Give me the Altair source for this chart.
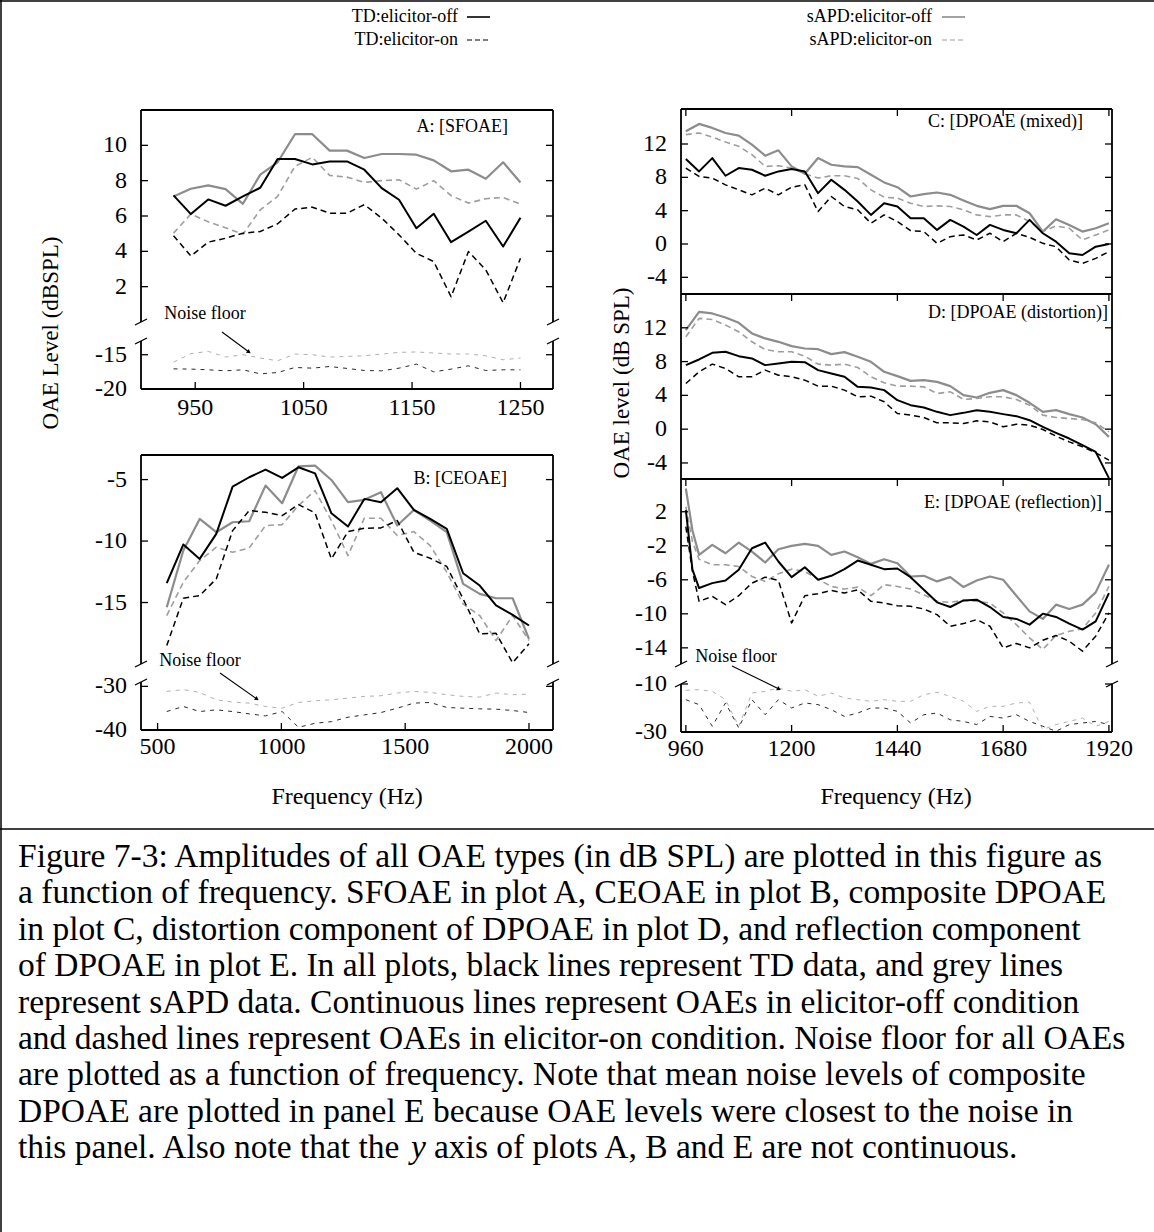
import altair as alt
import pandas as pd

FONT = "Liberation Serif"
INK = "#000000"
GREY_SOLID = "#8c8c8c"
GREY_DASHED = "#9e9e9e"
NOISE_DARK = "#2a2a2a"
NOISE_LIGHT = "#b0b0b0"
TICK = 7

# ---------------- Panel A: SFOAE ----------------
A_FREQ = [930, 946, 962, 978, 994, 1010, 1026, 1042, 1058, 1074, 1090,
          1106, 1122, 1138, 1154, 1170, 1186, 1202, 1218, 1234, 1250]
A_TD_OFF = [7.17, 6.11, 6.94, 6.58, 7.11, 7.6, 9.23, 9.23, 8.92, 9.09, 9.09,
            8.62, 7.58, 6.92, 5.31, 6.13, 4.52, 5.12, 5.73, 4.27, 5.9]
A_TD_ON = [4.88, 3.74, 4.52, 4.74, 5.03, 5.12, 5.56, 6.39, 6.5, 6.16, 6.16,
           6.64, 5.88, 4.93, 3.89, 3.42, 1.43, 3.99, 2.95, 1.09, 3.61]
A_SAPD_OFF = [7.11, 7.54, 7.73, 7.52, 6.69, 8.34, 9.04, 10.63, 10.63, 9.7, 9.7,
              9.28, 9.51, 9.51, 9.47, 9.15, 8.53, 8.62, 8.11, 9.04, 7.9]
A_SAPD_ON = [5.03, 6.11, 5.67, 5.33, 4.97, 6.35, 7.11, 8.81, 9.32, 8.3, 8.2,
             7.9, 8.0, 8.05, 7.52, 8.0, 7.15, 6.73, 6.98, 7.05, 6.67]
A_NOISE_TD = [-17.06, -17.1, -17.2, -17.35, -17.2, -17.79, -17.6, -16.86, -16.96, -16.72, -17.0,
              -17.3, -17.35, -16.96, -16.37, -17.5, -17.1, -16.62, -17.3, -17.2, -17.2]
A_NOISE_SAPD = [-16.08, -14.85, -14.51, -15.34, -15.0, -15.49, -15.88, -14.9, -15.0, -15.34, -15.25,
                -15.15, -14.9, -14.66, -14.6, -14.75, -14.9, -14.9, -15.15, -15.74, -15.49]

# ---------------- Panel B: CEOAE ----------------
B_FREQ = [537, 604, 670, 737, 803, 870, 936, 1003, 1069, 1136, 1202, 1269,
          1335, 1402, 1468, 1535, 1601, 1668, 1734, 1801, 1867, 1934, 2000]
B_TD_OFF = [-13.43, -10.28, -11.45, -9.42, -5.57, -4.81, -4.19, -4.86, -4.0, -4.49, -7.74, -8.82,
            -6.57, -6.84, -5.7, -7.47, -8.2, -9.01, -12.62, -13.62, -15.24, -16.0, -16.87]
B_TD_ON = [-18.5, -14.65, -14.43, -13.08, -9.15, -7.52, -7.66, -7.93, -7.03, -7.71, -11.45, -9.23,
           -8.96, -8.93, -8.33, -10.91, -11.4, -12.07, -14.7, -17.55, -17.5, -19.9, -18.36]
B_SAPD_OFF = [-15.38, -10.77, -8.2, -9.28, -8.47, -8.39, -5.49, -6.92, -3.92, -3.86, -5.03, -6.84,
              -6.65, -6.03, -8.74, -7.47, -8.33, -9.28, -13.48, -14.3, -14.65, -14.65, -17.95]
B_SAPD_ON = [-16.06, -13.35, -11.59, -10.5, -10.91, -10.56, -8.74, -8.66, -7.11, -5.89, -8.33, -11.18,
             -8.14, -8.14, -9.55, -9.23, -10.37, -12.53, -15.11, -16.06, -18.09, -16.06, -18.09]
B_NOISE_SAPD = [-31.15, -30.76, -31.38, -33.07, -33.61, -33.84, -34.61, -35.0, -33.69, -33.3, -33.07, -32.69,
                -32.3, -32.15, -31.53, -31.15, -31.38, -31.92, -32.3, -32.45, -31.53, -31.92, -31.76]
B_NOISE_TD = [-35.77, -34.61, -35.77, -35.38, -35.77, -36.3, -36.77, -35.77, -39.38, -38.46, -38.08, -37.07,
              -36.54, -36.0, -35.0, -33.84, -33.69, -34.84, -35.0, -35.15, -35.23, -35.53, -36.0]

# ---------------- Panels C, D, E: DPOAE ----------------
R_FREQ = [960, 990, 1020, 1050, 1080, 1110, 1140, 1170, 1200, 1230, 1260,
          1290, 1320, 1350, 1380, 1410, 1440, 1470, 1500, 1530, 1560, 1590,
          1620, 1650, 1680, 1710, 1740, 1770, 1800, 1830, 1860, 1890, 1920]
E_FREQ = [960, 975, 990, 1020, 1050, 1080, 1110, 1140, 1170, 1200, 1230, 1260,
          1290, 1320, 1350, 1380, 1410, 1440, 1470, 1500, 1530, 1560, 1590,
          1620, 1650, 1680, 1710, 1740, 1770, 1800, 1830, 1860, 1890, 1920]

C_TD_OFF = [10.19, 8.71, 10.31, 8.19, 9.11, 8.91, 8.19, 8.71, 8.99, 8.71, 6.1,
            7.71, 6.5, 5.1, 3.49, 4.9, 4.5, 3.09, 3.09, 1.69, 2.89, 2.09,
            1.08, 2.29, 1.69, 1.29, 2.89, 1.29, 0.28, -1.12, -1.32, -0.32, 0.0]
C_TD_ON = [9.11, 8.11, 7.91, 7.1, 6.5, 5.9, 6.7, 5.9, 6.82, 7.1, 3.89,
           5.7, 4.5, 4.1, 2.49, 3.49, 2.69, 1.61, 1.49, 0.08, 0.88, 1.08,
           0.48, 1.29, 0.28, 1.29, 0.8, 0.08, -0.32, -1.92, -2.33, -1.72, -0.92]
C_SAPD_OFF = [13.52, 14.41, 13.93, 13.32, 13.0, 11.92, 10.6, 11.24, 9.31, 8.43, 10.31,
              9.51, 9.31, 9.23, 8.31, 7.39, 6.82, 5.7, 5.98, 6.18, 5.9, 5.22,
              4.58, 4.18, 4.58, 4.58, 3.69, 1.49, 2.97, 2.29, 1.49, 1.89, 2.49]
C_SAPD_ON = [13.12, 13.32, 12.84, 12.24, 11.72, 10.72, 9.31, 9.39, 9.11, 8.43, 7.91,
             8.19, 8.19, 7.87, 6.5, 5.62, 5.5, 4.9, 4.5, 4.58, 4.5, 4.1,
             3.49, 3.29, 3.49, 3.49, 2.69, 1.49, 2.17, 1.89, 0.48, 1.09, 1.69]

D_TD_OFF = [7.58, 8.25, 9.04, 9.16, 8.64, 8.37, 7.58, 7.78, 7.97, 7.93, 6.99,
            6.59, 6.2, 5.01, 4.93, 4.62, 3.43, 2.84, 2.56, 2.05, 1.66, 1.93,
            2.25, 2.05, 1.78, 1.54, 1.06, 0.27, -0.44, -1.11, -1.9, -2.69, -5.8]
D_TD_ON = [5.41, 6.79, 7.7, 7.18, 6.2, 6.2, 6.99, 6.39, 6.2, 5.8, 5.09,
           5.09, 4.62, 3.83, 3.91, 3.24, 1.85, 1.66, 1.38, 0.75, 0.75, 0.67,
           0.99, 0.87, 0.28, 0.59, 0.47, -0.04, -0.83, -1.5, -2.09, -2.8, -3.67]
D_SAPD_OFF = [11.72, 13.89, 13.7, 13.22, 12.59, 11.33, 10.74, 10.34, 9.83, 9.55, 9.47,
              8.88, 9.12, 8.57, 7.97, 6.79, 6.28, 5.72, 5.8, 5.6, 5.09, 4.03,
              3.75, 4.3, 4.62, 4.03, 3.12, 2.05, 2.25, 1.78, 1.38, 0.59, -0.91]
D_SAPD_ON = [10.93, 13.11, 12.99, 12.32, 11.53, 10.34, 9.43, 9.16, 9.16, 8.64, 7.7,
             7.58, 7.7, 7.3, 6.2, 5.49, 5.09, 5.09, 5.01, 4.22, 4.42, 3.51,
             3.63, 3.83, 3.83, 3.51, 2.84, 1.66, 1.38, 1.26, 1.14, 0.75, -0.32]

E_TD_OFF = [2.2, -4.8, -6.97, -6.39, -6.08, -4.83, -2.29, -1.63, -3.85, -5.69, -4.52, -6.0,
            -5.53, -4.75, -3.74, -4.24, -4.75, -4.67, -5.69, -7.17, -8.65, -9.2, -8.42,
            -8.34, -9.2, -10.37, -10.6, -11.27, -9.98, -10.37, -11.15, -11.85, -10.88, -7.56]
E_TD_ON = [0.24, -5.0, -8.53, -7.95, -8.92, -7.87, -6.39, -5.69, -6.08, -11.07, -7.87, -7.64,
           -7.25, -7.56, -7.17, -8.53, -8.73, -9.04, -9.12, -9.43, -10.1, -11.46, -11.15,
           -10.68, -11.46, -14.0, -13.49, -14.0, -13.1, -12.55, -13.22, -14.39, -12.63, -9.9]
E_SAPD_OFF = [4.73, -0.2, -3.07, -1.9, -2.88, -1.63, -2.68, -3.97, -2.41, -2.02, -1.78, -2.02,
              -3.07, -2.68, -3.35, -4.13, -3.58, -4.05, -5.61, -5.53, -6.19, -5.69, -6.86,
              -6.08, -5.61, -6.0, -7.87, -9.71, -10.6, -8.92, -9.43, -8.92, -7.48, -4.24]
E_SAPD_ON = [2.59, -1.5, -3.58, -4.24, -4.24, -4.44, -5.61, -6.19, -5.3, -4.75, -5.02, -5.92,
             -6.78, -7.09, -6.86, -7.87, -6.58, -6.78, -7.09, -7.75, -8.53, -8.65, -8.42,
             -8.53, -8.73, -9.9, -11.27, -12.83, -14.19, -12.55, -12.05, -11.77, -9.9, -6.78]
E_NOISE_SAPD = [-12.64, -12.36, -13.06, -16.53, -27.6, -13.75, -13.06, -11.67, -13.06, -12.36, -15.14,
                -13.75, -15.83, -16.53, -17.22, -16.53, -17.22, -17.22, -14.44, -13.47, -15.14, -17.22,
                -21.4, -19.3, -19.3, -17.9, -17.6, -29.0, -26.9, -25.6, -24.2, -27.6, -25.6]
E_NOISE_TD = [-16.53, -18.6, -27.6, -17.9, -28.3, -16.53, -22.8, -16.53, -20.0, -17.9, -18.6,
              -20.7, -23.5, -22.1, -20.0, -20.0, -21.4, -26.25, -22.8, -22.1, -24.9, -25.6,
              -26.9, -23.5, -24.2, -22.8, -25.6, -27.6, -29.7, -26.9, -26.25, -25.6, -26.9]

LEGEND = [("TD:elicitor-off", "td_off"), ("TD:elicitor-on", "td_on"),
          ("sAPD:elicitor-off", "sapd_off"), ("sAPD:elicitor-on", "sapd_on")]

CAPTION = [
    "Figure 7-3: Amplitudes of all OAE types (in dB SPL) are plotted in this figure as",
    "a function of frequency. SFOAE in plot A, CEOAE in plot B, composite DPOAE",
    "in plot C, distortion component of DPOAE in plot D, and reflection component",
    "of DPOAE in plot E. In all plots, black lines represent TD data, and grey lines",
    "represent sAPD data. Continuous lines represent OAEs in elicitor-off condition",
    "and dashed lines represent OAEs in elicitor-on condition. Noise floor for all OAEs",
    "are plotted as a function of frequency. Note that mean noise levels of composite",
    "DPOAE are plotted in panel E because OAE levels were closest to the noise in",
]
CAPTION_LAST = ["this panel. Also note that the", "y", "axis of plots A, B and E are not continuous."]

STYLES = {
    "td_off": dict(color=INK, strokeWidth=2.0),
    "td_on": dict(color=INK, strokeWidth=1.5, strokeDash=[6, 4]),
    "sapd_off": dict(color=GREY_SOLID, strokeWidth=2.2),
    "sapd_on": dict(color=GREY_DASHED, strokeWidth=1.6, strokeDash=[6, 4]),
    "noise_td": dict(color=NOISE_DARK, strokeWidth=1.0, strokeDash=[4, 5]),
    "noise_sapd": dict(color=NOISE_LIGHT, strokeWidth=1.0, strokeDash=[4, 5]),
}

ONE = pd.DataFrame({"k": [0]})


def lin(dom, rng):
    return alt.Scale(domain=dom, range=rng, zero=False, nice=False)


def section(xdom, xrng, ydom, yrng, curves, edges, yticks, ylabels,
            xticks=None, xlab_dy=17, top_ticks=None, breaks=(), notes=None):
    """One plotting area (or one half of a broken-axis panel) with its own scales."""
    xs, ys = lin(xdom, xrng), lin(ydom, yrng)
    x0, x1 = xdom
    y0, y1 = ydom

    def X(f):
        return alt.X(f, scale=xs, axis=None)

    def Y(f):
        return alt.Y(f, scale=ys, axis=None)

    def XD(d):
        return alt.XDatum(d, scale=xs, axis=None)

    def YD(d):
        return alt.YDatum(d, scale=ys, axis=None)

    layers = []
    for freq, vals, style in curves:
        df = pd.DataFrame({"f": freq, "v": vals})
        layers.append(alt.Chart(df).mark_line(strokeJoin="round", **STYLES[style])
                      .encode(x=X("f:Q"), y=Y("v:Q")))

    seg = {"left": (x0, y0, x0, y1), "right": (x1, y0, x1, y1),
           "top": (x0, y1, x1, y1), "bottom": (x0, y0, x1, y0)}
    frame = pd.DataFrame([dict(zip(["xa", "ya", "xb", "yb"], seg[e])) for e in edges])
    layers.append(alt.Chart(frame).mark_rule(color=INK, strokeWidth=1.8)
                  .encode(x=X("xa:Q"), y=Y("ya:Q"), x2="xb:Q", y2="yb:Q"))

    if yticks:
        yt = pd.DataFrame({"v": yticks})
        layers.append(alt.Chart(yt).mark_rule(color=INK, strokeWidth=1.3, x2Offset=TICK)
                      .encode(x=XD(x0), x2=alt.X2Datum(x0), y=Y("v:Q")))
        layers.append(alt.Chart(yt).mark_rule(color=INK, strokeWidth=1.3, x2Offset=-TICK)
                      .encode(x=XD(x1), x2=alt.X2Datum(x1), y=Y("v:Q")))
    if ylabels:
        yl = pd.DataFrame({"v": ylabels, "t": [str(v) for v in ylabels]})
        layers.append(alt.Chart(yl).mark_text(align="right", baseline="middle", dx=-14,
                                              font=FONT, fontSize=24, color=INK)
                      .encode(x=XD(x0), y=Y("v:Q"), text="t:N"))
    if xticks:
        xt = pd.DataFrame({"v": xticks, "t": [str(v) for v in xticks]})
        layers.append(alt.Chart(xt).mark_rule(color=INK, strokeWidth=1.3, y2Offset=-TICK)
                      .encode(x=X("v:Q"), y=YD(y0), y2=alt.Y2Datum(y0)))
        layers.append(alt.Chart(xt).mark_text(align="center", baseline="middle", dy=xlab_dy,
                                              font=FONT, fontSize=24, color=INK)
                      .encode(x=X("v:Q"), y=YD(y0), text="t:N"))
    if top_ticks:
        tt = pd.DataFrame({"v": top_ticks})
        layers.append(alt.Chart(tt).mark_rule(color=INK, strokeWidth=1.3, y2Offset=TICK)
                      .encode(x=X("v:Q"), y=YD(y1), y2=alt.Y2Datum(y1)))
    for yb in breaks:
        for xb in (x0, x1):
            layers.append(alt.Chart(ONE).mark_rule(color=INK, strokeWidth=1.3,
                                                   xOffset=-6, x2Offset=6, yOffset=3, y2Offset=-3)
                          .encode(x=XD(xb), x2=alt.X2Datum(xb), y=YD(yb), y2=alt.Y2Datum(yb)))
    if notes:
        layers.extend(notes(XD, YD))
    return alt.layer(*layers)


def corner_label(text, xd, yd, dx, dy):
    return (alt.Chart(ONE).mark_text(text=text, align="right", baseline="middle", dx=dx, dy=dy,
                                     font=FONT, fontSize=18, color=INK)
            .encode(x=xd, y=yd))


def noise_note(fx, fy, ax, ay, bx, by, angle):
    """'Noise floor' label with an arrow pointing at the noise curves."""
    def build(XD, YD):
        return [
            alt.Chart(ONE).mark_text(text="Noise floor", align="center", baseline="middle",
                                     font=FONT, fontSize=18, color=INK)
            .encode(x=XD(fx), y=YD(fy)),
            alt.Chart(ONE).mark_rule(color=INK, strokeWidth=1.1)
            .encode(x=XD(ax), y=YD(ay), x2=alt.X2Datum(bx), y2=alt.Y2Datum(by)),
            alt.Chart(ONE).mark_point(shape="triangle-right", filled=True, size=22,
                                      angle=angle, color=INK, opacity=1)
            .encode(x=XD(bx), y=YD(by)),
        ]
    return build


# ---- left column geometry ----
AX_L = [141, 553]
A_X = [900, 1280]
B_X = [433, 2097]
# ---- right column geometry ----
AX_R = [681, 1112]
R_X = [949, 1927]
R_XT = [960, 1200, 1440, 1680, 1920]

sections = []

# Panel A, upper part
sections.append(section(
    A_X, AX_L, [0, 12], [322, 110],
    [(A_FREQ, A_SAPD_OFF, "sapd_off"), (A_FREQ, A_SAPD_ON, "sapd_on"),
     (A_FREQ, A_TD_OFF, "td_off"), (A_FREQ, A_TD_ON, "td_on")],
    ["left", "right", "top"], [2, 4, 6, 8, 10], [2, 4, 6, 8, 10], breaks=[0],
    notes=lambda XD, YD: [corner_label("A: [SFOAE]", XD(1280), YD(12), -45, 17)]))
# Panel A, lower part (noise floor)
sections.append(section(
    A_X, AX_L, [-20, -13], [389, 341],
    [(A_FREQ, A_NOISE_SAPD, "noise_sapd"), (A_FREQ, A_NOISE_TD, "noise_td")],
    ["left", "right", "bottom"], [-15], [-15, -20],
    xticks=[950, 1050, 1150, 1250], xlab_dy=19, breaks=[-13],
    notes=noise_note(959, -9.06, 974.7, -11.69, 999.6, -14.6, 36)))

# Panel B, upper part
sections.append(section(
    B_X, AX_L, [-20, -3], [664, 455],
    [(B_FREQ, B_SAPD_OFF, "sapd_off"), (B_FREQ, B_SAPD_ON, "sapd_on"),
     (B_FREQ, B_TD_OFF, "td_off"), (B_FREQ, B_TD_ON, "td_on")],
    ["left", "right", "top"], [-5, -10, -15], [-5, -10, -15], breaks=[-20],
    notes=lambda XD, YD: [corner_label("B: [CEOAE]", XD(2097), YD(-3), -46, 24)]))
# Panel B, lower part (noise floor)
sections.append(section(
    B_X, AX_L, [-40, -29], [730, 682],
    [(B_FREQ, B_NOISE_SAPD, "noise_sapd"), (B_FREQ, B_NOISE_TD, "noise_td")],
    ["left", "right", "bottom"], [-30], [-30, -40],
    xticks=[500, 1000, 1500, 2000], xlab_dy=17, breaks=[-29],
    notes=noise_note(671, -24.19, 752, -26.94, 901.5, -32.9, 36)))

# Panel C
sections.append(section(
    R_X, AX_R, [-6, 16.2], [294, 109],
    [(R_FREQ, C_SAPD_OFF, "sapd_off"), (R_FREQ, C_SAPD_ON, "sapd_on"),
     (R_FREQ, C_TD_OFF, "td_off"), (R_FREQ, C_TD_ON, "td_on")],
    ["left", "right", "top"], [12, 8, 4, 0, -4], [12, 8, 4, 0, -4], top_ticks=R_XT,
    notes=lambda XD, YD: [corner_label("C: [DPOAE (mixed)]", XD(1927), YD(16.2), -29, 13)]))
# Panel D
sections.append(section(
    R_X, AX_R, [-5.9, 16], [479, 294],
    [(R_FREQ, D_SAPD_OFF, "sapd_off"), (R_FREQ, D_SAPD_ON, "sapd_on"),
     (R_FREQ, D_TD_OFF, "td_off"), (R_FREQ, D_TD_ON, "td_on")],
    ["left", "right", "top"], [12, 8, 4, 0, -4], [12, 8, 4, 0, -4], top_ticks=R_XT,
    notes=lambda XD, YD: [corner_label("D: [DPOAE (distortion)]", XD(1927), YD(16), -4, 19)]))
# Panel E, upper part
sections.append(section(
    R_X, AX_R, [-15.9, 5.85], [664, 479],
    [(E_FREQ, E_SAPD_OFF, "sapd_off"), (E_FREQ, E_SAPD_ON, "sapd_on"),
     (E_FREQ, E_TD_OFF, "td_off"), (E_FREQ, E_TD_ON, "td_on")],
    ["left", "right", "top"], [2, -2, -6, -10, -14], [2, -2, -6, -10, -14],
    top_ticks=R_XT, breaks=[-15.9],
    notes=lambda XD, YD: [corner_label("E: [DPOAE (reflection)]", XD(1927), YD(5.85), -10, 24)]))
# Panel E, lower part (noise floor)
sections.append(section(
    R_X, AX_R, [-30, -10], [732, 684],
    [(R_FREQ, E_NOISE_SAPD, "noise_sapd"), (R_FREQ, E_NOISE_TD, "noise_td")],
    ["left", "right", "bottom"], [-10], [-10, -30],
    xticks=R_XT, xlab_dy=17, breaks=[-10],
    notes=noise_note(1073.8, 1.25, 1064.7, -2.5, 1171.4, -12.08, 26)))

# ---------------- page furniture: frame, titles, legend, caption ----------------
page = []
for kw in (dict(x=alt.value(1), y=alt.value(0), y2=alt.value(1232)),
           dict(x=alt.value(0), x2=alt.value(1154), y=alt.value(1)),
           dict(x=alt.value(0), x2=alt.value(1154), y=alt.value(829))):
    page.append(alt.Chart(ONE).mark_rule(color=INK, strokeWidth=1.5).encode(**kw))


def free_text(text, x, y, size, angle=0, align="center", baseline="middle", style="normal"):
    props = dict(text=text, align=align, baseline=baseline, font=FONT, fontSize=size,
                 color=INK, fontStyle=style)
    if angle:
        props["angle"] = angle
    return alt.Chart(ONE).mark_text(**props).encode(x=alt.value(x), y=alt.value(y))


page.append(free_text("OAE Level (dBSPL)", 51, 333, 23, angle=270))
page.append(free_text("OAE level (dB SPL)", 622, 383, 23, angle=270))
page.append(free_text("Frequency (Hz)", 347, 797, 24))
page.append(free_text("Frequency (Hz)", 896, 797, 24))

legend_pos = [(458, 17, 467, 490), (458, 40, 467, 490), (932, 17, 942, 965), (932, 40, 942, 965)]
for (label, style), (tx, ty, la, lb) in zip(LEGEND, legend_pos):
    page.append(free_text(label, tx, ty, 18, align="right"))
    st = dict(STYLES[style])
    st["strokeWidth"] = 1.6 if "strokeDash" not in st else 1.2
    if "strokeDash" in st:
        st["strokeDash"] = [5, 3]
    page.append(alt.Chart(ONE).mark_rule(**st)
                .encode(x=alt.value(la), x2=alt.value(lb), y=alt.value(ty)))

CAP_SIZE = 33.5
cap_y = alt.Scale(domain=[0, 8], range=[867, 1158], zero=False, nice=False)
cap_df = pd.DataFrame({"i": list(range(len(CAPTION))), "t": CAPTION})
caption = [alt.Chart(cap_df).mark_text(align="left", baseline="alphabetic", font=FONT,
                                       fontSize=CAP_SIZE, color=INK)
           .encode(x=alt.value(18), y=alt.Y("i:Q", scale=cap_y, axis=None), text="t:N")]
last_df = pd.DataFrame({"i": [8]})
for part, xpos, style in zip(CAPTION_LAST, [18, 411, 434], ["normal", "italic", "normal"]):
    caption.append(alt.Chart(last_df).mark_text(text=part, align="left", baseline="alphabetic",
                                                font=FONT, fontSize=CAP_SIZE, color=INK,
                                                fontStyle=style)
                   .encode(x=alt.value(xpos), y=alt.Y("i:Q", scale=cap_y, axis=None)))
page.append(alt.layer(*caption))

chart = (alt.layer(*sections, *page)
         .resolve_scale(x="independent", y="independent")
         .properties(width=1154, height=1232, padding=0,
                     autosize=alt.AutoSizeParams(type="none"), background="white")
         .configure_view(stroke="transparent"))

chart.save("out.html", embed_options={"renderer": "svg", "actions": False})
